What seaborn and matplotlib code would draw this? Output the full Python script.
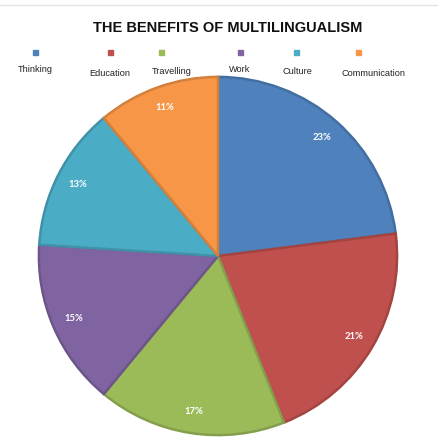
import matplotlib
matplotlib.use("Agg")
import matplotlib.pyplot as plt
import seaborn as sns
import numpy as np
from matplotlib.colors import to_rgb
from matplotlib.lines import Line2D

categories = ["Thinking", "Education", "Travelling", "Work", "Culture", "Communication"]
values = [23, 21, 17, 15, 13, 11]
colors = ["#4F81BD", "#C0504D", "#9BBB59", "#8064A2", "#4BACC6", "#F79646"]
title = "THE BENEFITS OF MULTILINGUALISM"

sns.set_theme(style="white")
plt.rcParams['font.family'] = ['Liberation Sans', 'DejaVu Sans']
palette = sns.color_palette(colors)

W = H = 438
fig = plt.figure(figsize=(W / 100, H / 100), dpi=100)
fig.patch.set_facecolor("white")

# top thin gray rule
fig.add_artist(Line2D([0, 1], [1 - 5 / H, 1 - 5 / H], color="#e3e3e3", lw=1))

fig.text(228 / W, 1 - 28 / H, title, ha="center", va="center",
         fontsize=10.5, fontweight="bold", color="#111111")

# legend: markers above, labels staggered
mx = [35, 110, 161, 240, 296, 358]
lx = [35, 110, 172, 240, 297, 373]
ly = [70, 73, 72, 70, 72, 73]
for i, cat in enumerate(categories):
    fig.add_artist(plt.Rectangle(((mx[i] - 2.5) / W, 1 - 55 / H), 5 / W, 5 / H,
                                 color=palette[i], transform=fig.transFigure))
    fig.text(lx[i] / W, 1 - ly[i] / H, cat, ha="center", va="center",
             fontsize=6.6, color="#222222")

cx, cy, r = 218, 256, 180
ax = fig.add_axes([(cx - r) / W, (H - cy - r) / H, 2 * r / W, 2 * r / H])
wedges, texts = ax.pie(values, colors=palette, startangle=90, counterclock=False,
                       radius=1, wedgeprops=dict(linewidth=1.8))
for w, c in zip(wedges, palette):
    rgb = to_rgb(c)
    w.set_edgecolor(tuple(v * 0.85 for v in rgb))

tot = sum(values)
cum = 0
for v in values:
    mid = 90 - (cum + v / 2) / tot * 360
    cum += v
    a = np.deg2rad(mid)
    ax.text(0.88 * np.cos(a), 0.88 * np.sin(a), f"{v}%", ha="center", va="center",
            fontsize=6.8, color="white", fontweight="bold", family=["Lato", "DejaVu Sans"])
ax.set_xlim(-1.005, 1.005)
ax.set_ylim(-1.005, 1.005)
ax.set_aspect("equal")
ax.axis("off")

fig.savefig("out.png", dpi=100)
